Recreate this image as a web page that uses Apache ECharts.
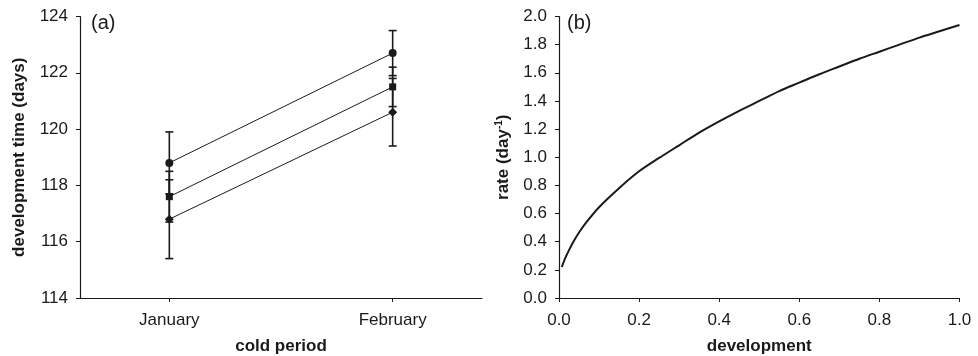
<!DOCTYPE html>
<html>
<head>
<meta charset="utf-8">
<script src="https://cdn.jsdelivr.net/npm/echarts@6/dist/echarts.min.js"></script>
<style>
  html, body { margin: 0; padding: 0; background: #fff; }
  #chart { width: 978px; height: 356px; }
</style>
</head>
<body>
<div id="chart"></div>
<script>
// panel (a): development time by cold period
const months = ['January', 'February'];
const circleMean = [118.8, 122.7];
const circleErr = [1.1, 0.8];
const squareMean = [117.6, 121.5];
const squareErr = [0.9, 0.7];
const diamondMean = [116.8, 120.6];
const diamondErr = [1.4, 1.2];

// panel (b): rate vs development
const devX = [0.007, 0.015, 0.025, 0.036, 0.05, 0.069, 0.1, 0.15, 0.2, 0.25, 0.3, 0.35, 0.4, 0.45, 0.5, 0.55, 0.6, 0.65, 0.7, 0.75, 0.8, 0.85, 0.9, 0.95, 1.0];
const rateY = [0.22, 0.28, 0.34, 0.40, 0.465, 0.54, 0.645, 0.78, 0.90, 0.995, 1.085, 1.175, 1.255, 1.33, 1.40, 1.47, 1.53, 1.59, 1.645, 1.70, 1.75, 1.80, 1.85, 1.895, 1.94];

const ink = '#1a1a1a';
const font = 'Liberation Sans, Arial, sans-serif';

const chart = echarts.init(document.getElementById('chart'));

const pts = (means) => means.map((m, i) => [i, m]);
const errData = [];
[[circleMean, circleErr], [squareMean, squareErr], [diamondMean, diamondErr]].forEach(([m, e]) => {
  m.forEach((v, i) => errData.push([i, v, e[i]]));
});

const tickLabel = { color: ink, fontSize: 17, fontFamily: font };
const axisName = { color: ink, fontSize: 17, fontWeight: 'bold', fontFamily: font };

const lineSeries = (data, symbol, size) => ({
  type: 'line',
  xAxisIndex: 0,
  yAxisIndex: 0,
  data: data,
  symbol: symbol,
  symbolSize: size,
  lineStyle: { color: ink, width: 1 },
  itemStyle: { color: ink },
  z: 3
});

chart.setOption({
  animation: false,
  grid: [
    { left: 80, top: 16.5, width: 402, height: 281.5, outerBoundsMode: 'none', containLabel: false },
    { left: 559, top: 16.5, width: 400.5, height: 281.5, outerBoundsMode: 'none', containLabel: false }
  ],
  xAxis: [
    {
      type: 'value', gridIndex: 0, min: -0.4, max: 1.4,
      axisLine: { onZero: false, lineStyle: { color: ink, width: 1.2 } },
      axisTick: { show: true, length: 4, customValues: [0, 1], lineStyle: { color: ink } },
      axisLabel: { ...tickLabel, margin: 14, customValues: [0, 1], formatter: v => months[Math.round(v)] },
      splitLine: { show: false },
      name: 'cold period', nameLocation: 'middle', nameGap: 40, nameTextStyle: axisName
    },
    {
      type: 'value', gridIndex: 1, min: 0, max: 1, interval: 0.2,
      axisLine: { onZero: false, lineStyle: { color: ink, width: 1.2 } },
      axisTick: { show: true, length: 4, lineStyle: { color: ink } },
      axisLabel: { ...tickLabel, margin: 14, formatter: v => v.toFixed(1) },
      splitLine: { show: false },
      name: 'development', nameLocation: 'middle', nameGap: 40, nameTextStyle: axisName
    }
  ],
  yAxis: [
    {
      type: 'value', gridIndex: 0, min: 114, max: 124, interval: 2,
      axisLine: { show: true, onZero: false, lineStyle: { color: ink, width: 1.2 } },
      axisTick: { show: true, length: 4, lineStyle: { color: ink } },
      axisLabel: { ...tickLabel, margin: 12 },
      splitLine: { show: false },
      name: 'development time (days)', nameLocation: 'middle', nameGap: 52, nameTextStyle: axisName
    },
    {
      type: 'value', gridIndex: 1, min: 0, max: 2, interval: 0.2,
      axisLine: { show: true, onZero: false, lineStyle: { color: ink, width: 1.2 } },
      axisTick: { show: true, length: 4, lineStyle: { color: ink } },
      axisLabel: { ...tickLabel, margin: 12, formatter: v => v.toFixed(1) },
      splitLine: { show: false },
      name: 'rate (day{sup|-1})', nameLocation: 'middle', nameGap: 47,
      nameTextStyle: {
        ...axisName,
        rich: { sup: { fontSize: 10, fontWeight: 'bold', fontFamily: font, color: ink, verticalAlign: 'top', padding: [0, 0, 8, 0] } }
      }
    }
  ],
  graphic: [
    { type: 'text', left: 91, top: 13, style: { text: '(a)', fontSize: 20, fontFamily: font, fill: ink } },
    { type: 'text', left: 567, top: 13, style: { text: '(b)', fontSize: 20, fontFamily: font, fill: ink } }
  ],
  series: [
    {
      type: 'custom',
      xAxisIndex: 0,
      yAxisIndex: 0,
      data: errData,
      z: 2,
      renderItem: (params, api) => {
        const x = api.value(0), m = api.value(1), e = api.value(2);
        const hi = api.coord([x, m + e]);
        const lo = api.coord([x, m - e]);
        const cap = 4;
        const st = { stroke: ink, lineWidth: 1.6 };
        return {
          type: 'group',
          children: [
            { type: 'line', shape: { x1: hi[0], y1: hi[1], x2: lo[0], y2: lo[1] }, style: st },
            { type: 'line', shape: { x1: hi[0] - cap, y1: hi[1], x2: hi[0] + cap, y2: hi[1] }, style: st },
            { type: 'line', shape: { x1: lo[0] - cap, y1: lo[1], x2: lo[0] + cap, y2: lo[1] }, style: st }
          ]
        };
      }
    },
    lineSeries(pts(circleMean), 'circle', 8),
    lineSeries(pts(squareMean), 'rect', 7),
    lineSeries(pts(diamondMean), 'diamond', 9),
    {
      type: 'line',
      xAxisIndex: 1,
      yAxisIndex: 1,
      data: devX.map((x, i) => [x, rateY[i]]),
      smooth: 0.3,
      showSymbol: false,
      symbol: 'none',
      lineStyle: { color: ink, width: 2 }
    }
  ]
});
</script>
</body>
</html>
